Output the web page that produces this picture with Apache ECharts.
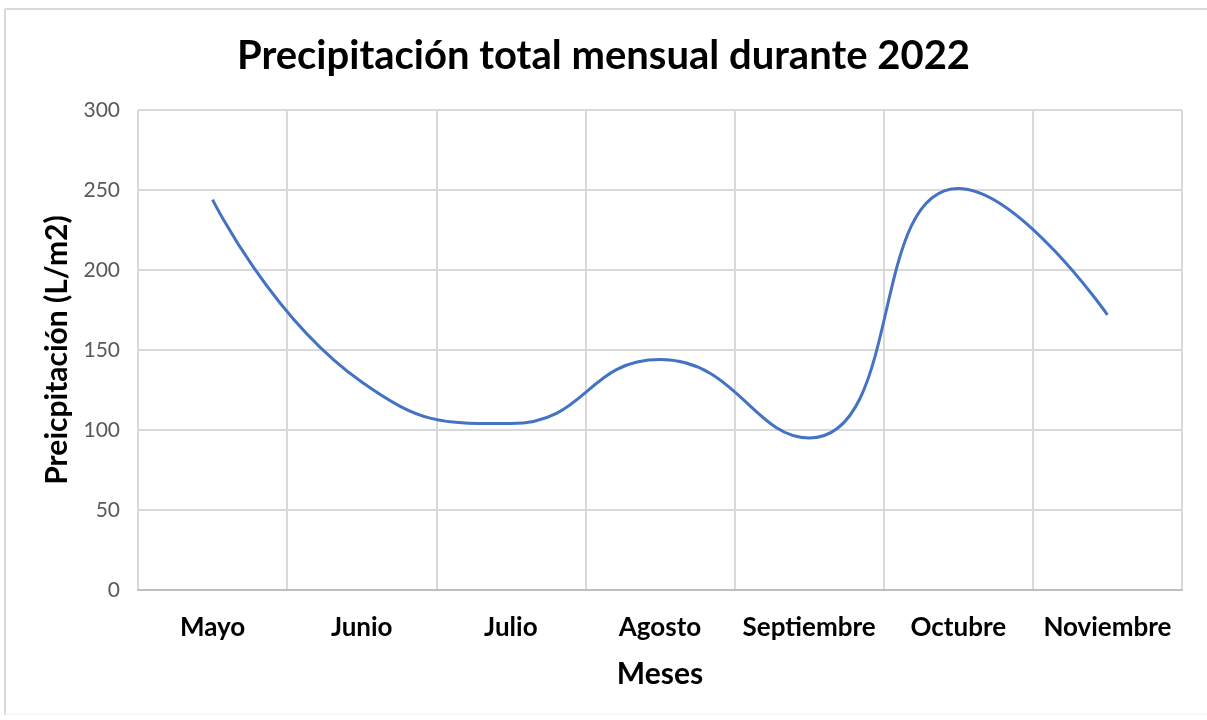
<!DOCTYPE html>
<html>
<head>
<meta charset="utf-8">
<script src="https://cdn.jsdelivr.net/npm/echarts@6/dist/echarts.min.js"></script>
<style>
  html, body { margin: 0; padding: 0; background: #fff; }
  #chart { width: 1207px; height: 720px; }
</style>
</head>
<body>
<div id="chart"></div>
<script>
const FONT = "Lato, 'Open Sans', sans-serif";
const LINE = "#4472c4";
const GRID = "#d9d9d9";

const months = ["Mayo", "Junio", "Julio", "Agosto", "Septiembre", "Octubre", "Noviembre"];
const rainfall = [244, 130, 104, 144, 95, 251, 172];
const yTicks = [0, 300, 50]; // min, max, interval

const chart = echarts.init(document.getElementById("chart"), null, { renderer: "canvas" });

chart.setOption({
  animation: false,
  backgroundColor: "#fff",
  title: {
    text: "Precipitación total mensual durante 2022",
    left: "center",
    top: 31,
    textStyle: { fontFamily: FONT, fontWeight: "bold", fontSize: 40, color: "#000" },
  },
  graphic: [
    { type: "line", shape: { x1: 5, y1: 9, x2: 1207, y2: 9 }, style: { stroke: GRID, lineWidth: 2 } },
    { type: "line", shape: { x1: 5, y1: 9, x2: 5, y2: 715 }, style: { stroke: GRID, lineWidth: 2 } },
    { type: "line", shape: { x1: 5, y1: 714, x2: 1207, y2: 714 }, style: { stroke: "#f0f0f0", lineWidth: 1 } },
  ],
  grid: { left: 138, right: 25, top: 110, bottom: 130 },
  xAxis: {
    type: "category",
    data: months,
    boundaryGap: true,
    name: "Meses",
    nameLocation: "middle",
    nameGap: 69,
    nameTextStyle: { fontFamily: FONT, fontWeight: "bold", fontSize: 30, color: "#000" },
    axisLine: { lineStyle: { color: "#bfbfbf", width: 2 } },
    axisTick: { show: false },
    axisLabel: { fontFamily: FONT, fontWeight: "bold", fontSize: 26, color: "#000", margin: 25, interval: 0 },
    splitLine: { show: true, interval: 0, lineStyle: { color: GRID, width: 2 } },
  },
  yAxis: {
    type: "value",
    min: yTicks[0],
    max: yTicks[1],
    interval: yTicks[2],
    name: "Preicpitación (L/m2)",
    nameLocation: "middle",
    nameGap: 61,
    nameTextStyle: { fontFamily: FONT, fontWeight: "bold", fontSize: 30, color: "#000" },
    axisLine: { show: false },
    axisTick: { show: false },
    axisLabel: { fontFamily: FONT, fontSize: 21, color: "#595959", margin: 18 },
    splitLine: { show: true, lineStyle: { color: GRID, width: 2 } },
  },
  series: [
    {
      type: "line",
      data: rainfall,
      smooth: 0.5,
      showSymbol: false,
      lineStyle: { color: LINE, width: 3 },
    },
  ],
});
</script>
</body>
</html>
